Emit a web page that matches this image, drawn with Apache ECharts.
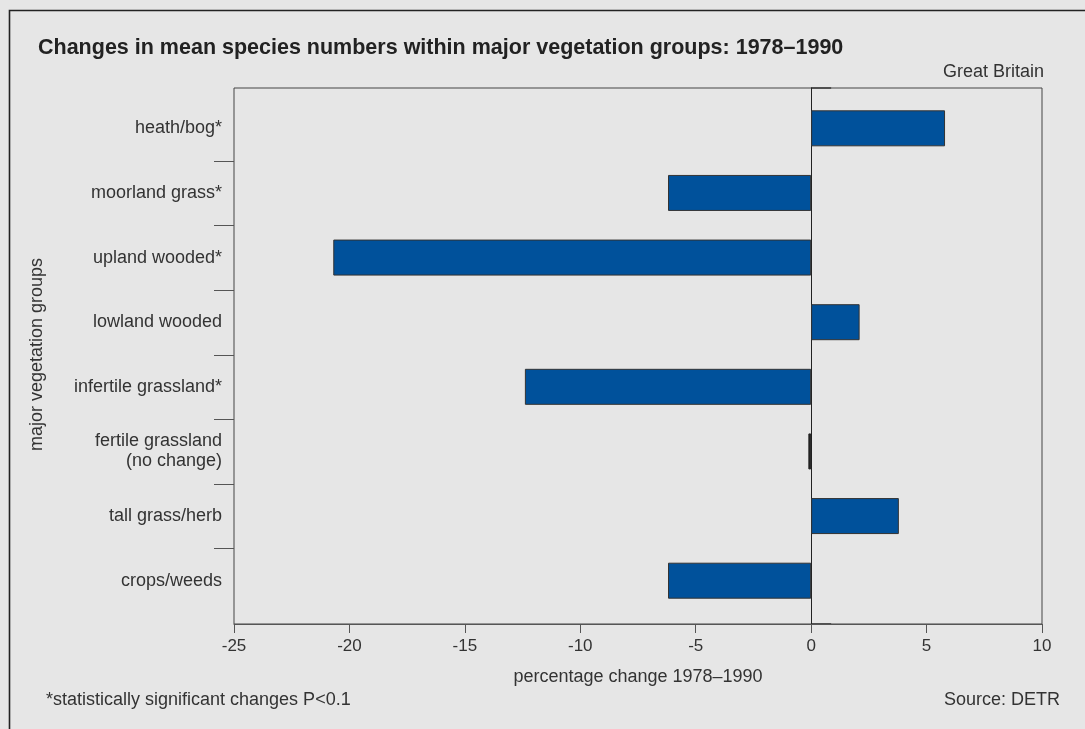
<!DOCTYPE html>
<html>
<head>
<meta charset="utf-8">
<script src="https://cdn.jsdelivr.net/npm/echarts@6/dist/echarts.min.js"></script>
<style>
  html, body { margin: 0; padding: 0; background: #e6e6e6; }
  #chart { width: 1085px; height: 729px; }
</style>
</head>
<body>
<div id="chart"></div>
<script>
// data
const categories = [
  'heath/bog*',
  'moorland grass*',
  'upland wooded*',
  'lowland wooded',
  'infertile grassland*',
  'fertile grassland\n(no change)',
  'tall grass/herb',
  'crops/weeds',
]
const changes = [5.8, -6.2, -20.7, 2.1, -12.4, -0.12, 3.8, -6.2]
const xTicks = [-25, -20, -15, -10, -5, 0, 5, 10]
const noChangeIndex = 5

const FONT = '"Liberation Sans", Arial, Helvetica, sans-serif'
const TEXT = '#333'
const barBlue = '#00519b'

const chart = echarts.init(document.getElementById('chart'))

const xMin = xTicks[0]
const xMax = xTicks[xTicks.length - 1]

const option = {
  backgroundColor: '#e6e6e6',
  animation: false,
  textStyle: { fontFamily: FONT },
  grid: [
    // frame box
    { left: 234, right: 43, top: 88, bottom: 105, show: true, borderColor: '#444', borderWidth: 1, backgroundColor: 'transparent' },
    // bars sit a little inside the frame
    { left: 234, right: 43, top: 96, bottom: 116 },
  ],
  xAxis: [
    {
      gridIndex: 0,
      type: 'value',
      min: xMin,
      max: xMax,
      interval: 5,
      axisLine: { show: true, onZero: false, lineStyle: { color: '#555', width: 1 } },
      axisTick: { show: true, length: 9, lineStyle: { color: '#555' } },
      axisLabel: { color: TEXT, fontSize: 17, margin: 14, fontFamily: FONT },
      splitLine: { show: false },
      name: 'percentage change 1978\u20131990',
      nameLocation: 'middle',
      nameGap: 44,
      nameTextStyle: { color: TEXT, fontSize: 18, fontFamily: FONT },
    },
    {
      gridIndex: 1,
      type: 'value',
      min: xMin,
      max: xMax,
      show: false,
    },
  ],
  yAxis: [
    {
      // zero line across the whole frame
      gridIndex: 0,
      type: 'value',
      min: 0,
      max: 1,
      axisLine: { show: true, onZero: true, lineStyle: { color: '#222', width: 1 } },
      axisTick: { show: false },
      axisLabel: { show: false },
      splitLine: { show: false },
    },
    {
      gridIndex: 1,
      type: 'category',
      data: categories,
      inverse: true,
      axisLine: { show: false, onZero: false },
      axisTick: { show: false },
      axisLabel: {
        color: TEXT,
        fontSize: 18,
        fontFamily: FONT,
        margin: 12,
        lineHeight: 20,
        align: 'right',
      },
      name: 'major vegetation groups',
      nameLocation: 'middle',
      nameRotate: 90,
      nameGap: 188,
      nameTextStyle: { color: TEXT, fontSize: 18, fontFamily: FONT },
    },
  ],
  series: [
    {
      type: 'bar',
      xAxisIndex: 1,
      yAxisIndex: 1,
      barWidth: 36,
      data: changes.map((v, i) => ({
        value: v,
        itemStyle: i === noChangeIndex
          ? { color: '#222', borderColor: '#222', borderWidth: 1 }
          : { color: barBlue, borderColor: '#333', borderWidth: 1 },
      })),
    },
  ],
  graphic: [
    {
      type: 'polyline',
      shape: { points: [[9.5, 729], [9.5, 10.5], [1085, 10.5]] },
      style: { stroke: '#222', lineWidth: 1.6, fill: null },
    },
    {
      type: 'text',
      left: 38,
      top: 37,
      style: {
        text: 'Changes in mean species numbers within major vegetation groups: 1978\u20131990',
        font: 'bold 21.5px ' + FONT,
        fill: '#222',
      },
    },
    {
      type: 'text',
      right: 41,
      top: 63,
      style: { text: 'Great Britain', font: '18px ' + FONT, fill: TEXT },
    },
    {
      type: 'text',
      left: 46,
      top: 691,
      style: { text: '*statistically significant changes P<0.1', font: '18px ' + FONT, fill: TEXT },
    },
    {
      type: 'text',
      right: 25,
      top: 691,
      style: { text: 'Source: DETR', font: '18px ' + FONT, fill: TEXT },
    },
  ],
}

chart.setOption(option)

// category boundary ticks and the short marks at zero on the frame
const extra = []
const leftX = chart.convertToPixel({ xAxisIndex: 0 }, xMin)
for (let i = 1; i < categories.length; i++) {
  const a = chart.convertToPixel({ yAxisIndex: 1 }, categories[i - 1])
  const b = chart.convertToPixel({ yAxisIndex: 1 }, categories[i])
  const y = Math.round((a + b) / 2) + 0.5
  extra.push({
    type: 'line',
    shape: { x1: leftX - 20, y1: y, x2: leftX, y2: y },
    style: { stroke: '#555', lineWidth: 1 },
  })
}
const zeroX = chart.convertToPixel({ xAxisIndex: 0 }, 0)
const frameTop = chart.convertToPixel({ yAxisIndex: 0 }, 1)
const frameBottom = chart.convertToPixel({ yAxisIndex: 0 }, 0)
;[frameTop, frameBottom].forEach(y => {
  extra.push({
    type: 'line',
    shape: { x1: zeroX, y1: y, x2: zeroX + 20, y2: y },
    style: { stroke: '#222', lineWidth: 1.2 },
  })
})
chart.setOption({ graphic: option.graphic.concat(extra) })
</script>
</body>
</html>
